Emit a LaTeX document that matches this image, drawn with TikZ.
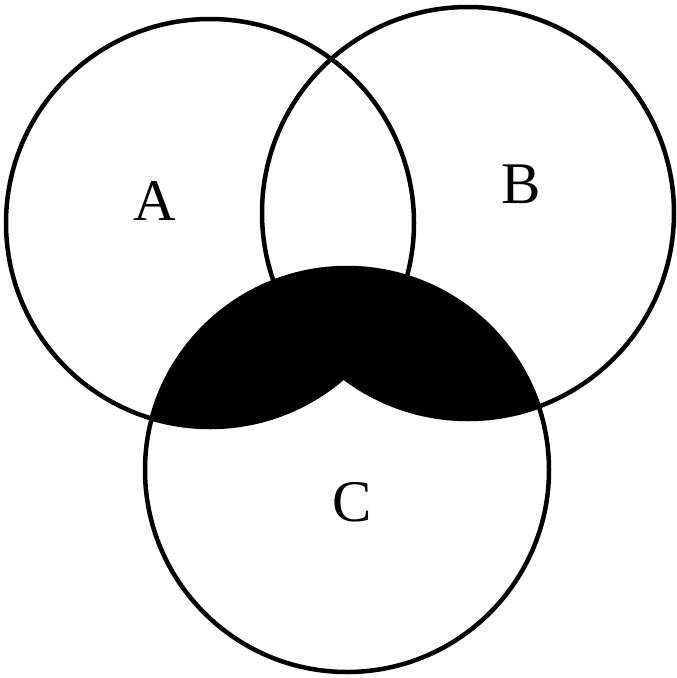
\documentclass[tikz,border=0pt]{standalone}
\usepackage{fontspec}
\setmainfont{Liberation Serif}
\begin{document}
\begin{tikzpicture}[x=1pt,y=-1pt,
  circ/.style={draw=black, line width=4.5pt},
  lab/.style={font=\fontsize{59}{59}\selectfont, inner sep=0pt}]
\useasboundingbox (0,0) rectangle (677,678);
\coordinate (ca) at (210,223);
\coordinate (cb) at (468,213);
\coordinate (cc) at (347,470);
\begin{scope}
  \clip (cc) circle[radius=202pt];
  \fill[black] (ca) circle[radius=204pt];
  \fill[black] (cb) circle[radius=206pt];
\end{scope}
\draw[circ] (ca) circle[radius=204pt];
\draw[circ] (cb) circle[radius=206pt];
\draw[circ] (cc) circle[radius=202pt];
\node[lab] (la) at (154.5,201.5) {A};
\node[lab] (lb) at (521,184) {B};
\node[lab] (lc) at (352,502.5) {C};
\end{tikzpicture}
\end{document}
